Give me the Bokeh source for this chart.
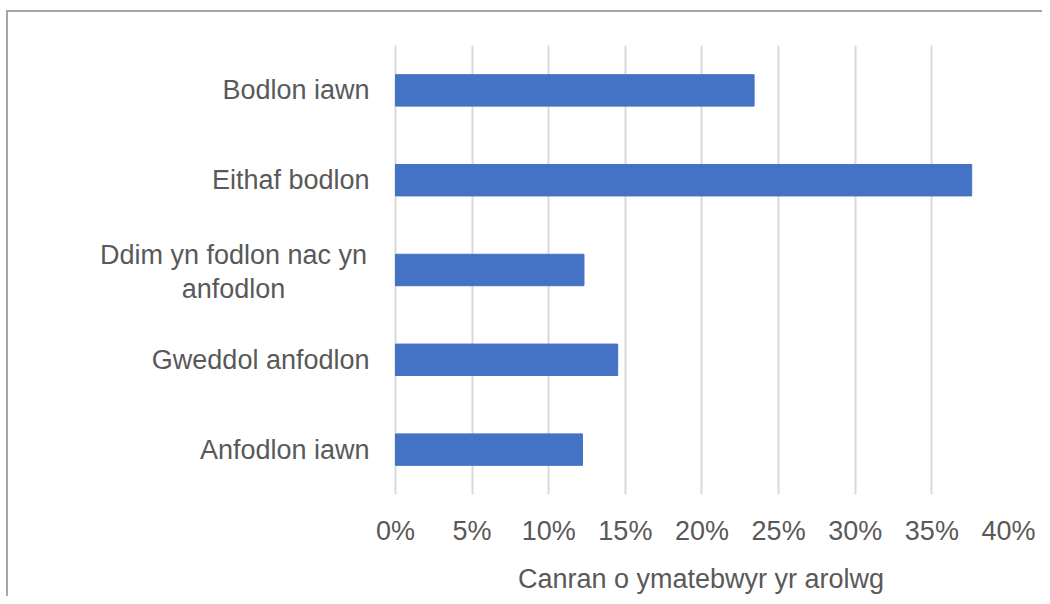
from bokeh.plotting import figure
from bokeh.models import Range1d, FactorRange, PrintfTickFormatter, ColumnDataSource
from bokeh.layouts import row
from bokeh.embed import file_html
from bokeh.resources import INLINE

categories = ["Bodlon iawn", "Eithaf bodlon", "Ddim yn fodlon nac yn\nanfodlon",
              "Gweddol anfodlon", "Anfodlon iawn"]
values = [23.4, 37.6, 12.3, 14.5, 12.2]
x_ticks = [0, 5, 10, 15, 20, 25, 30, 35, 40]
x_title = "Canran o ymatebwyr yr arolwg"

FONT = "Liberation Sans"
TEXT = "#595959"
H = 584
TOP, BOTTOM = 33, 99

y_range = FactorRange(factors=categories[::-1])

# ---- left panel: category labels (Excel style: right-aligned, wrapped label centred)
lab = figure(width=364, height=H, output_backend="svg", toolbar_location=None,
             x_range=Range1d(-360, 4), y_range=y_range,
             min_border_left=0, min_border_right=0,
             min_border_top=TOP, min_border_bottom=BOTTOM)
lab.axis.visible = False
lab.grid.visible = False
lab.outline_line_color = None
lab.border_fill_color = "white"

rows = dict(y=[], text=[], align=[], base=[], xoff=[], yoff=[])
for c in categories:
    lines = c.split("\n")
    if len(lines) == 1:
        rows["y"].append(c); rows["text"].append(c); rows["align"].append("right")
        rows["base"].append("middle"); rows["xoff"].append(1); rows["yoff"].append(0)
    else:
        for k, line in enumerate(lines):
            rows["y"].append(c); rows["text"].append(line); rows["align"].append("center")
            rows["base"].append("bottom" if k == 0 else "top")
            rows["xoff"].append(-135); rows["yoff"].append(0 if k == 0 else 4)
src = ColumnDataSource(dict(rows, x=[0] * len(rows["y"])))
lab.text(x="x", y="y", text="text", source=src, text_align="align",
         text_baseline="base", x_offset="xoff", y_offset="yoff",
         text_font={"value": FONT}, text_font_size="27px", text_color=TEXT)

# ---- right panel: bars
p = figure(width=670, height=H, output_backend="svg", toolbar_location=None,
           y_range=y_range, x_range=Range1d(-0.13, 40),
           min_border_left=21, min_border_right=34,
           min_border_top=TOP, min_border_bottom=BOTTOM)
p.outline_line_color = None
p.border_fill_color = "white"

p.hbar(y=categories, right=values, left=0, height=0.35, color="#4472C4")

p.xaxis.ticker = x_ticks
p.xaxis.formatter = PrintfTickFormatter(format="%d%%")
p.xaxis.axis_label = x_title
p.xaxis.axis_label_text_font = FONT
p.xaxis.axis_label_text_font_size = "27px"
p.xaxis.axis_label_text_font_style = "normal"
p.xaxis.axis_label_text_color = TEXT
p.xaxis.axis_label_standoff = 15
p.xaxis.major_label_standoff = 21
p.xaxis.axis_line_color = None
p.xaxis.major_tick_line_color = None
p.xaxis.minor_tick_line_color = None
p.xaxis.major_tick_out = 0
p.xaxis.major_tick_in = 0
p.xaxis.major_label_text_font = FONT
p.xaxis.major_label_text_font_size = "27px"
p.xaxis.major_label_text_color = TEXT
p.yaxis.visible = False

p.xgrid.grid_line_color = "#d9d9d9"
p.xgrid.grid_line_width = 2
p.ygrid.grid_line_color = None

layout = row(lab, p, spacing=0)
layout.styles = {"border-top": "2px solid #a6a6a6", "border-left": "2px solid #a6a6a6",
                 "margin-left": "6px", "margin-top": "10px", "background": "white"}

open("out.html", "w").write(file_html(layout, INLINE))
